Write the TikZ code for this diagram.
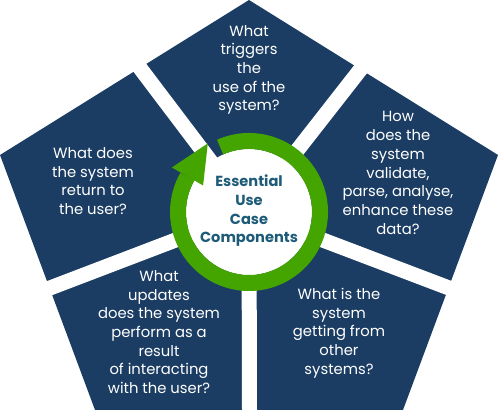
\documentclass[tikz,border=0pt]{standalone}
\usepackage{fontspec}
\setmainfont{Poppins}
\usetikzlibrary{calc}
\definecolor{PentaBlue}{HTML}{1B3D63}
\definecolor{RingGreen}{HTML}{44A500}
\definecolor{CoreTeal}{HTML}{1D5B78}
\tikzset{
	Q-Text/.style={text=white,align=center,inner sep=0pt,font=\fontsize{14.8}{18.7}\selectfont},
	Core-Text/.style={text=CoreTeal,align=center,inner sep=0pt,font=\bfseries\fontsize{14.6}{18.7}\selectfont},
	Gap-Line/.style={white,line width=15pt},
	Ring/.style={RingGreen,line width=16pt}
}

\begin{document}
\begin{tikzpicture}[x=1pt,y=1pt]
	\useasboundingbox (0,0) rectangle (498,419);
	\coordinate (C) at (249,207);
	\fill[PentaBlue] (249,419) -- (498,264) -- (403,9) -- (95,9) -- (0,264) -- cycle;
	% white gaps between the five pieces
	\foreach \gx/\gy in {140/351,360/349,449/131,249.5/9,50/131} {
		\draw[Gap-Line] (C) -- ($(C)!1.3!(\gx,\gy)$);
	}
	% centre disc and circular arrow
	\fill[white] (C) circle (63);
	\draw[Ring] ($(C)+(114:71)$) arc[start angle=114, end angle=-210, radius=71];
	\fill[RingGreen] ($(C)+(150:89)$) -- ($(C)+(121:80)$) -- ($(C)+(150:53)$) -- cycle;
	\node[Core-Text] (core) at (249,208) {Essential\\Use\\Case\\Components};
	% questions
	\node[Q-Text] (trigger) at (249,349) {What\\triggers\\the\\use of the\\system?};
	\node[Q-Text] (process) at (398,246) {How\\does the\\system\\validate,\\parse, analyse,\\enhance these\\data?};
	\node[Q-Text] (input) at (339,86) {What is the\\system\\getting from\\other\\systems?};
	\node[Q-Text] (update) at (159,87) {What\\updates\\does the system\\perform as a\\result\\of interacting\\with the user?};
	\node[Q-Text] (output) at (93,238) {What does\\the system\\return to\\the user?};
\end{tikzpicture}
\end{document}
